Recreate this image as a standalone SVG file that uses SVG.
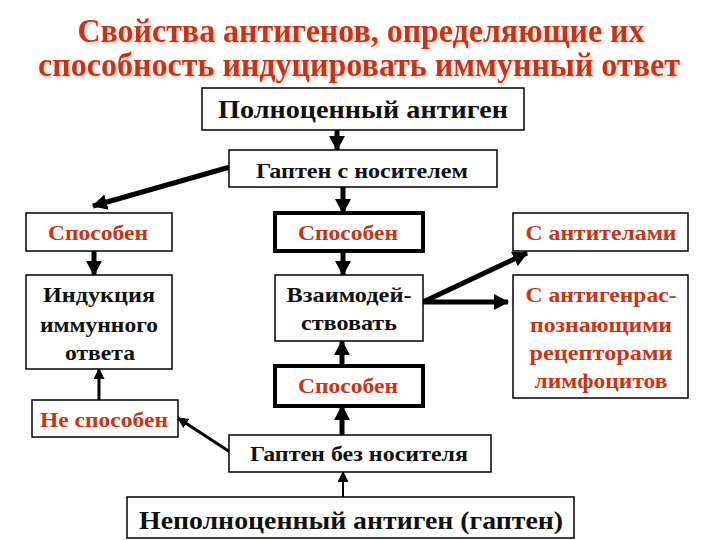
<svg xmlns="http://www.w3.org/2000/svg" width="720" height="540" viewBox="0 0 720 540" font-family="'Liberation Serif', Tinos, 'Times New Roman', 'DejaVu Serif', serif">
<style>
.box{fill:#fff;stroke:#000;stroke-width:1.5}
.thick{fill:#fff;stroke:#000;stroke-width:4}
text{font-family:"Liberation Serif",Tinos,"Times New Roman","DejaVu Serif",serif;font-weight:bold;text-anchor:middle}
.t{fill:#111}
.r{fill:#CC3311}
.title{fill:#C0361A;font-size:34px}
.c{stroke:#000;fill:none}
.w5{stroke-width:5}
.w3{stroke-width:3}
</style>
<defs>
<marker id="big" markerUnits="userSpaceOnUse" markerWidth="16" markerHeight="16" refX="14" refY="8" orient="auto">
<path d="M0,0 L15,8 L0,16 Z" fill="#000"/>
</marker>
<marker id="small" markerUnits="userSpaceOnUse" markerWidth="11" markerHeight="11" refX="10" refY="5.5" orient="auto">
<path d="M0,0 L11,5.5 L0,11 Z" fill="#000"/>
</marker>
<filter id="sh" x="-5%" y="-20%" width="110%" height="140%">
<feDropShadow dx="1.5" dy="1.5" stdDeviation="0.8" flood-color="#E8B090" flood-opacity="0.8"/>
</filter>
</defs>

<g id="title" filter="url(#sh)">
<text class="title" x="361" y="42" textLength="567" lengthAdjust="spacingAndGlyphs">Свойства антигенов, определяющие их</text>
<text class="title" x="359" y="76" textLength="642" lengthAdjust="spacingAndGlyphs">способность индуцировать иммунный ответ</text>
</g>

<g id="connectors">
<line class="c w5" x1="337" y1="130" x2="337" y2="150" marker-end="url(#big)"/>
<line class="c w5" x1="230" y1="167" x2="93" y2="206" marker-end="url(#big)"/>
<line class="c w5" x1="343" y1="187" x2="343" y2="213" marker-end="url(#big)"/>
<line class="c w5" x1="94" y1="251" x2="94" y2="275" marker-end="url(#big)"/>
<line class="c w5" x1="343" y1="251" x2="343" y2="275" marker-end="url(#big)"/>
<line class="c w5" x1="423" y1="302" x2="527" y2="253" marker-end="url(#big)"/>
<line class="c w5" x1="423" y1="302" x2="508" y2="302" marker-end="url(#big)"/>
<line class="c w5" x1="342" y1="366" x2="342" y2="341" marker-end="url(#big)"/>
<line class="c w5" x1="342" y1="435" x2="342" y2="406" marker-end="url(#big)"/>
<line class="c w3" x1="99" y1="400" x2="99" y2="369" marker-end="url(#small)"/>
<line class="c w3" x1="230" y1="452" x2="178" y2="418" marker-end="url(#small)"/>
<line class="c" stroke-width="2" x1="343" y1="497" x2="343" y2="472" marker-end="url(#small)"/>
</g>

<g id="full-antigen">
<rect class="box" x="202" y="88" width="322" height="42"/>
<text class="t" x="363" y="118" font-size="26" textLength="290" lengthAdjust="spacingAndGlyphs">Полноценный антиген</text>
</g>
<g id="hapten-carrier">
<rect class="box" x="229" y="150" width="268" height="37"/>
<text class="t" x="362" y="178" font-size="22" textLength="212" lengthAdjust="spacingAndGlyphs">Гаптен с носителем</text>
</g>
<g id="capable-left">
<rect class="box" x="26" y="213" width="146" height="38"/>
<text class="r" x="98" y="240" font-size="22" textLength="100" lengthAdjust="spacingAndGlyphs">Способен</text>
</g>
<g id="capable-mid">
<rect class="thick" x="275" y="213" width="148" height="38"/>
<text class="r" x="348" y="240" font-size="22" textLength="100" lengthAdjust="spacingAndGlyphs">Способен</text>
</g>
<g id="with-antibodies">
<rect class="box" x="513" y="213" width="175" height="38"/>
<text class="r" x="601" y="240" font-size="22" textLength="151" lengthAdjust="spacingAndGlyphs">С антителами</text>
</g>
<g id="induction">
<rect class="box" x="26" y="275" width="146" height="94"/>
<text class="t" x="99" y="302" font-size="22" textLength="112" lengthAdjust="spacingAndGlyphs">Индукция</text>
<text class="t" x="99" y="332" font-size="22" textLength="118" lengthAdjust="spacingAndGlyphs">иммунного</text>
<text class="t" x="100" y="360" font-size="22" textLength="70" lengthAdjust="spacingAndGlyphs">ответа</text>
</g>
<g id="interact">
<rect class="box" x="275" y="275" width="148" height="66"/>
<text class="t" x="349" y="302" font-size="22" textLength="125" lengthAdjust="spacingAndGlyphs">Взаимодей-</text>
<text class="t" x="349" y="330" font-size="22" textLength="96" lengthAdjust="spacingAndGlyphs">ствовать</text>
</g>
<g id="with-receptors">
<rect class="box" x="513" y="275" width="175" height="123"/>
<text class="r" x="601" y="302" font-size="22" textLength="151" lengthAdjust="spacingAndGlyphs">С антигенрас-</text>
<text class="r" x="601" y="332" font-size="22" textLength="142" lengthAdjust="spacingAndGlyphs">познающими</text>
<text class="r" x="601" y="360" font-size="22" textLength="143" lengthAdjust="spacingAndGlyphs">рецепторами</text>
<text class="r" x="601" y="388" font-size="22" textLength="133" lengthAdjust="spacingAndGlyphs">лимфоцитов</text>
</g>
<g id="capable-low">
<rect class="thick" x="275" y="366" width="148" height="40"/>
<text class="r" x="348" y="393" font-size="22" textLength="100" lengthAdjust="spacingAndGlyphs">Способен</text>
</g>
<g id="not-capable">
<rect class="box" x="32" y="400" width="146" height="37"/>
<text class="r" x="104" y="427" font-size="22" textLength="128" lengthAdjust="spacingAndGlyphs">Не способен</text>
</g>
<g id="hapten-no-carrier">
<rect class="box" x="229" y="435" width="262" height="37"/>
<text class="t" x="359" y="461" font-size="22" textLength="218" lengthAdjust="spacingAndGlyphs">Гаптен без носителя</text>
</g>
<g id="incomplete-antigen">
<rect class="box" x="127" y="497" width="447" height="41"/>
<text class="t" x="351" y="529" font-size="26" textLength="424" lengthAdjust="spacingAndGlyphs">Неполноценный антиген (гаптен)</text>
</g>
</svg>
